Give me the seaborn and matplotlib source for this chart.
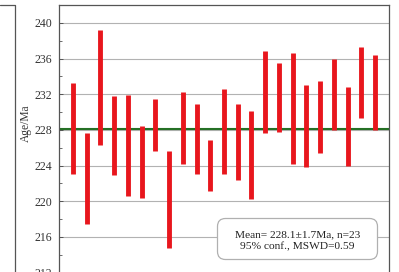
import numpy as np
import pandas as pd
import seaborn as sns
import matplotlib.pyplot as plt
from matplotlib.lines import Line2D
from matplotlib.patches import FancyBboxPatch
from matplotlib.transforms import IdentityTransform

# zircon spot ages (2 sigma ranges)
spot = list(range(1, 24))
age_low = [223.1, 217.4, 226.3, 222.9, 220.6, 220.4, 225.6, 214.8, 224.2, 223.0, 221.2, 223.1,
           222.4, 220.3, 227.7, 227.8, 224.2, 223.8, 225.4, 228.0, 224.0, 229.3, 228.0]
age_high = [233.3, 227.7, 239.2, 231.8, 231.9, 228.4, 231.5, 225.6, 232.2, 230.9, 226.9, 232.6,
            230.9, 230.1, 236.8, 235.5, 236.6, 233.0, 233.5, 235.9, 232.8, 237.3, 236.4]
mean_age = 228.1
y_ticks = [208, 212, 216, 220, 224, 228, 232, 236, 240]
label_text = "Mean= 228.1\u00b11.7Ma, n=23\n95% conf., MSWD=0.59"

sns.set_style("white")
plt.rcParams['font.family'] = ['Liberation Serif', 'DejaVu Serif']

# long form: two rows per spot so lineplot draws one vertical bar per unit
df = pd.DataFrame({
    'spot': spot * 2,
    'age': age_low + age_high,
})

fig = plt.figure(figsize=(3.99, 2.72), dpi=100)
ax = fig.add_axes([0.1486, -0.1335, 0.8256, 1.1151])

ax.axhline(mean_age, color='#257025', lw=1.5, zorder=2)
sns.lineplot(data=df, x='spot', y='age', units='spot', estimator=None,
             color='#e8161d', lw=3.5, solid_capstyle='butt', ax=ax, zorder=3)

ax.set_xlim(0, 24)
ax.set_ylim(208, 242)
ax.set_yticks(y_ticks)
ax.set_yticks(np.arange(210, 242, 4), minor=True)
ax.set_xticks([])
ax.set_xlabel('')
ax.set_ylabel('')
ax.yaxis.grid(True, color='#b2b2b2', lw=0.8)
ax.set_axisbelow(True)
ax.tick_params(axis='y', which='major', direction='in', length=3, width=0.7,
               labelsize=8.5, labelcolor='#333333', color='#555555', pad=5, left=True)
ax.tick_params(axis='y', which='minor', direction='in', length=2, width=0.6,
               color='#555555', left=True)
for s in ax.spines.values():
    s.set_color('#555555')
    s.set_linewidth(0.9)

fig.text(26 / 399, 1 - 123 / 272, 'Age/Ma', rotation=90, ha='center', va='center',
         fontsize=8.3, color='#333333')

# neighbouring panel corner at the far left
fig.add_artist(Line2D([0, 14.5 / 399, 14.5 / 399], [1 - 5 / 272, 1 - 5 / 272, 0],
                      transform=fig.transFigure, color='#555555', lw=0.9))

# statistics box
box = FancyBboxPatch((217.5, 12.5), 160, 41, boxstyle='round,pad=0,rounding_size=8',
                     transform=IdentityTransform(), facecolor='white',
                     edgecolor='#b0b0b0', lw=0.9)
fig.add_artist(box)
fig.text(297.5 / 399, 1 - 240.5 / 272, label_text, ha='center', va='center',
         fontsize=8.2, color='#222222', linespacing=1.3, zorder=5)

fig.savefig('out.png', dpi=100)
